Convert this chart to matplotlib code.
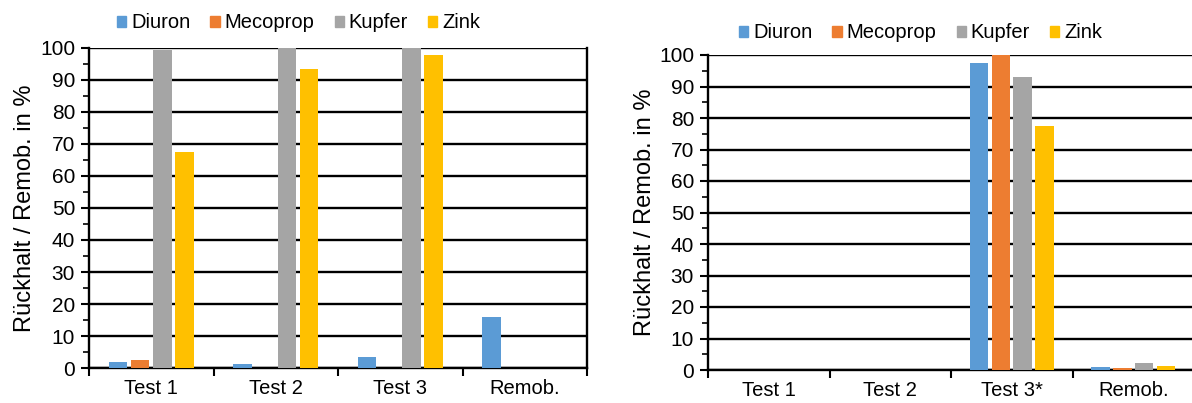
import numpy as np
import matplotlib
matplotlib.use("Agg")
import matplotlib.pyplot as plt
from matplotlib.patches import Patch
from matplotlib.ticker import MultipleLocator, FixedLocator

plt.rcParams['font.family'] = ['Liberation Sans', 'DejaVu Sans']

# data
series = ['Diuron', 'Mecoprop', 'Kupfer', 'Zink']
colors = ['#5B9BD5', '#ED7D31', '#A5A5A5', '#FFC000']

cats_left = ['Test 1', 'Test 2', 'Test 3', 'Remob.']
diuron_left = [2.0, 1.3, 3.5, 16.0]
mecoprop_left = [2.5, 0, 0, 0]
kupfer_left = [99.3, 100, 100, 0]
zink_left = [67.5, 93.5, 97.8, 0]

cats_right = ['Test 1', 'Test 2', 'Test 3*', 'Remob.']
diuron_right = [0, 0, 97.4, 0.9]
mecoprop_right = [0, 0, 100, 0.6]
kupfer_right = [0, 0, 93.1, 2.1]
zink_right = [0, 0, 77.5, 1.3]

ylabel = 'Rückhalt / Remob. in %'
FS = 14.5
W, H = 1192, 403

fig = plt.figure(figsize=(W / 100, H / 100), dpi=100)


def px_axes(x0, x1, ytop, ybot):
    return fig.add_axes([x0 / W, (H - ybot) / H, (x1 - x0) / W, (ybot - ytop) / H])


def draw(ax, cats, values, step):
    x = np.arange(len(cats))
    offs = (np.arange(4) - 1.5) * step
    for vals, off, c in zip(values, offs, colors):
        ax.bar(x + off, vals, width=step * 0.84, color=c, zorder=3)
    ax.set_xlim(-0.5, len(cats) - 0.5)
    ax.set_ylim(0, 100)
    ax.yaxis.set_major_locator(MultipleLocator(10))
    ax.yaxis.set_minor_locator(MultipleLocator(5))
    ax.grid(axis='y', color='black', linewidth=1.7, zorder=1)
    ax.set_axisbelow(True)
    # category boundary ticks, labels in the middle
    ax.xaxis.set_major_locator(FixedLocator(np.arange(len(cats) + 1) - 0.5))
    ax.xaxis.set_minor_locator(FixedLocator(x))
    ax.set_xticklabels([])
    ax.set_xticklabels(cats, minor=True, fontsize=FS)
    ax.tick_params(axis='x', which='major', length=6, width=1.5, direction='out')
    ax.tick_params(axis='x', which='minor', length=0, pad=8)
    ax.tick_params(axis='y', which='major', length=6, width=1.5, labelsize=15, pad=4)
    ax.tick_params(axis='y', which='minor', length=4, width=1.2)
    for s in ['left', 'bottom', 'right']:
        ax.spines[s].set_linewidth(1.7)
        ax.spines[s].set_color('black')
    ax.spines['top'].set_visible(False)
    ax.set_ylabel(ylabel, fontsize=17)


ax1 = px_axes(89, 587, 48, 368)
draw(ax1, cats_left, [diuron_left, mecoprop_left, kupfer_left, zink_left], 0.177)
ax1.yaxis.set_label_coords(-0.106, 0.5)

ax2 = px_axes(708, 1194, 55, 370)
draw(ax2, cats_right, [diuron_right, mecoprop_right, kupfer_right, zink_right], 0.18)
ax2.yaxis.set_label_coords(-0.106, 0.5)

handles = [Patch(color=c, label=s) for s, c in zip(series, colors)]
leg_kw = dict(ncol=4, frameon=False, fontsize=FS, handlelength=0.45, handleheight=0.45,
              handletextpad=0.25, columnspacing=1.0, borderpad=0, borderaxespad=0,
              loc='center left')
fig.legend(handles=handles, bbox_to_anchor=(117 / W, 1 - 23 / H), **leg_kw)
fig.legend(handles=handles, bbox_to_anchor=(739 / W, 1 - 33 / H), **leg_kw)

fig.savefig('out.png', dpi=100)
